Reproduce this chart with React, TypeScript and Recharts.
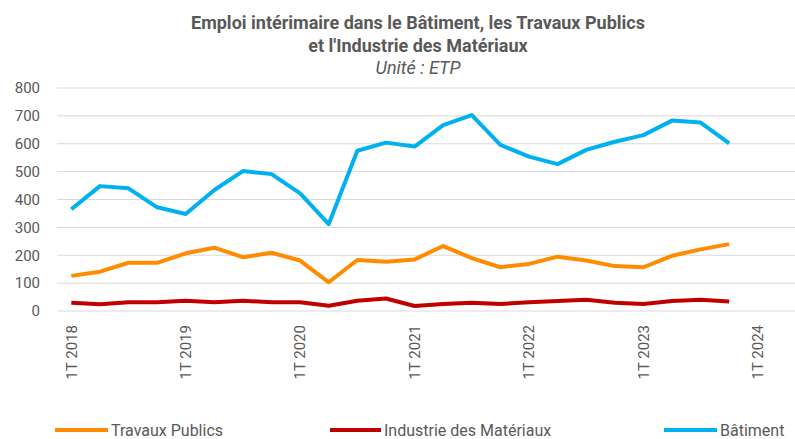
import { LineChart, Line, XAxis, YAxis, CartesianGrid } from "recharts";

const BLEU = "#00B0F0";
const ORANGE = "#FF8C00";
const ROUGE = "#C00000";
const GRIS = "#595959";

const QUARTERS = [
  "1T 2018", "2T 2018", "3T 2018", "4T 2018",
  "1T 2019", "2T 2019", "3T 2019", "4T 2019",
  "1T 2020", "2T 2020", "3T 2020", "4T 2020",
  "1T 2021", "2T 2021", "3T 2021", "4T 2021",
  "1T 2022", "2T 2022", "3T 2022", "4T 2022",
  "1T 2023", "2T 2023", "3T 2023", "4T 2023",
  "1T 2024",
];

const TRAVAUX_PUBLICS = [
  126, 141, 173, 173, 207, 227, 193, 209, 181, 103, 183, 177,
  185, 233, 190, 157, 169, 195, 181, 161, 157, 198, 221, 240,
];
const INDUSTRIE = [
  30, 24, 31, 31, 37, 31, 37, 31, 31, 19, 37, 45,
  18, 25, 30, 25, 31, 36, 40, 30, 25, 36, 40, 34,
];
const BATIMENT = [
  365, 448, 440, 372, 348, 434, 502, 491, 422, 312, 575, 604,
  590, 667, 703, 596, 554, 527, 578, 607, 631, 683, 676, 601,
];

const Y_TICKS = [0, 100, 200, 300, 400, 500, 600, 700, 800];
const X_TICKS = [0, 4, 8, 12, 16, 20, 24];

const SERIES = [
  { key: "tp", name: "Travaux Publics", color: ORANGE, values: TRAVAUX_PUBLICS },
  { key: "ind", name: "Industrie des Matériaux", color: ROUGE, values: INDUSTRIE },
  { key: "bat", name: "Bâtiment", color: BLEU, values: BATIMENT },
];

const data = QUARTERS.map((q, i) => ({
  i,
  q,
  tp: TRAVAUX_PUBLICS[i] ?? null,
  ind: INDUSTRIE[i] ?? null,
  bat: BATIMENT[i] ?? null,
}));

function XTick({ x, y, payload }: any) {
  return (
    <text
      x={x}
      y={y}
      transform={`rotate(-90 ${x} ${y})`}
      textAnchor="end"
      dy="0.35em"
      fontSize={15}
      fill={GRIS}
    >
      {QUARTERS[payload.value]}
    </text>
  );
}

const legendPos = [
  { left: 55, line: 53 },
  { left: 330, line: 51 },
  { left: 664, line: 53 },
];

export default function App() {
  return (
    <div
      style={{
        position: "absolute",
        left: 0,
        top: 0,
        width: 795,
        height: 439,
        background: "#fff",
        fontFamily: "Roboto, sans-serif",
        overflow: "hidden",
      }}
    >
      <div
        style={{
          position: "absolute",
          left: 18,
          width: 800,
          top: 0,
          textAlign: "center",
          color: GRIS,
        }}
      >
        <div style={{ fontWeight: 700, fontSize: 18, lineHeight: "23px", marginTop: 11 }}>
          Emploi intérimaire dans le Bâtiment, les Travaux Publics
        </div>
        <div style={{ fontWeight: 700, fontSize: 18, lineHeight: "23px" }}>
          et l'Industrie des Matériaux
        </div>
        <div style={{ fontStyle: "italic", fontSize: 18, lineHeight: "22px" }}>
          Unité : ETP
        </div>
      </div>

      <LineChart
        width={795}
        height={439}
        data={data}
        margin={{ top: 88, right: 0, left: 0, bottom: 48 }}
        style={{ position: "absolute", left: 0, top: 0 }}
      >
        <CartesianGrid vertical={false} stroke="#D9D9D9" strokeWidth={1} />
        <XAxis
          dataKey="i"
          type="number"
          domain={[-0.5, 25.3]}
          ticks={X_TICKS}
          tick={<XTick />}
          tickLine={false}
          axisLine={false}
          tickSize={0}
          tickMargin={14}
          height={80}
          interval={0}
          allowDataOverflow
        />
        <YAxis
          domain={[0, 800]}
          ticks={Y_TICKS}
          width={57}
          tickLine={false}
          axisLine={false}
          tickSize={0}
          tickMargin={17}
          tick={{ fontSize: 15, fill: GRIS }}
          interval={0}
        />
        {SERIES.map((s) => (
          <Line
            key={s.key}
            dataKey={s.key}
            name={s.name}
            stroke={s.color}
            strokeWidth={4}
            dot={false}
            activeDot={false}
            isAnimationActive={false}
            strokeLinejoin="round"
          />
        ))}
      </LineChart>

      {SERIES.map((s, i) => (
        <div
          key={s.key}
          style={{
            position: "absolute",
            left: legendPos[i].left,
            top: 420,
            height: 20,
            display: "flex",
            alignItems: "center",
            fontSize: 16,
            color: GRIS,
            whiteSpace: "nowrap",
          }}
        >
          <span
            style={{
              display: "inline-block",
              width: legendPos[i].line,
              height: 4,
              background: s.color,
              marginRight: 3,
            }}
          />
          {s.name}
        </div>
      ))}
    </div>
  );
}
